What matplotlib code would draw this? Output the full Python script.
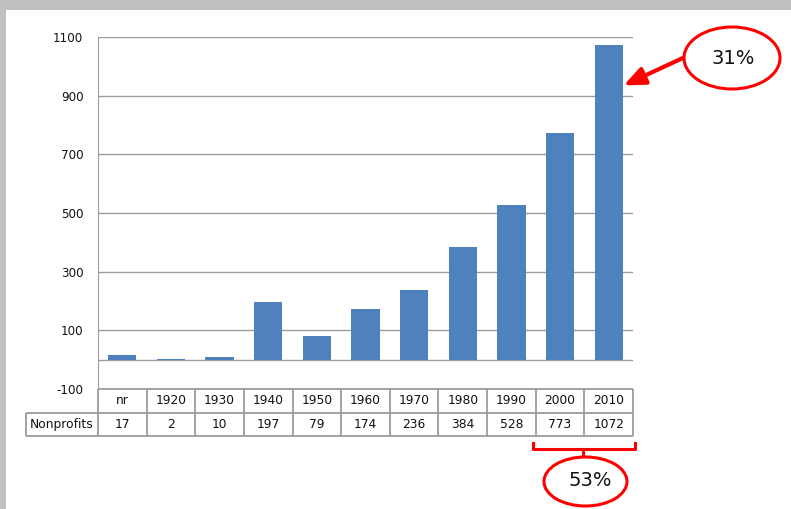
import numpy as np
import matplotlib.pyplot as plt
from matplotlib.patches import Ellipse, Rectangle

# ---- datos ----
categorias = ["nr", "1920", "1930", "1940", "1950", "1960", "1970", "1980", "1990", "2000", "2010"]
nonprofits = [17, 2, 10, 197, 79, 174, 236, 384, 528, 773, 1072]
yticks = [-100, 100, 300, 500, 700, 900, 1100]
etiqueta_fila = "Nonprofits"

W, H = 791, 509
AZUL = "#4F81BD"
GRIS = "#9C9C9C"
ROJO = "#FF0000"
TXT = "#111111"


def fx(px):
    return px / W


def fy(py):
    return 1 - py / H


fig = plt.figure(figsize=(W / 100, H / 100), dpi=100, facecolor="#C0C0C0")
fig.patches.append(Rectangle((fx(6), 0), 1 - fx(6), fy(10), transform=fig.transFigure,
                             facecolor="white", edgecolor="none", zorder=-10))

# ---- grafico de barras ----
ax = fig.add_axes([fx(98), fy(389), fx(633) - fx(98), fy(37) - fy(389)])
ax.set_facecolor("none")
xs = np.arange(len(categorias))
ancho = 0.58
ax.bar(xs, nonprofits, width=ancho, color=AZUL, zorder=3)
ax.set_xlim(-0.5, len(categorias) - 0.5)
ax.set_ylim(-100, 1100)
ax.set_yticks(yticks)
ax.set_yticklabels([str(t) for t in yticks], fontsize=8.6, color=TXT)
ax.tick_params(axis="y", length=0, pad=10.5)
ax.set_xticks([])
for t in yticks:
    ax.axhline(t, color=GRIS, lw=1, zorder=1)
ax.axhline(0, color=GRIS, lw=1, zorder=2)
for s in ["top", "right", "bottom"]:
    ax.spines[s].set_visible(False)
ax.spines["left"].set_color(GRIS)

# ---- tabla de datos ----
tx = fig.add_axes([fx(26), fy(436), fx(633) - fx(26), fy(389) - fy(436)])
izq = -0.5 - (98 - 26) / (535 / len(categorias))
tx.set_xlim(izq, len(categorias) - 0.5)
tx.set_ylim(0, 2)
tx.axis("off")
n = len(categorias)
lw_t = 1.3
tx.hlines(2, -0.5, n - 0.5, color=GRIS, lw=lw_t, clip_on=False)
tx.hlines([0, 1], izq, n - 0.5, color=GRIS, lw=lw_t, clip_on=False)
tx.vlines(np.arange(n + 1) - 0.5, 0, 2, color=GRIS, lw=lw_t, clip_on=False)
tx.vlines(izq, 0, 1, color=GRIS, lw=lw_t, clip_on=False)
for i, (c, v) in enumerate(zip(categorias, nonprofits)):
    tx.text(i, 1.5, c, ha="center", va="center", fontsize=8.8, color=TXT)
    tx.text(i, 0.5, str(v), ha="center", va="center", fontsize=8.8, color=TXT)
tx.text((izq - 0.5) / 2, 0.5, etiqueta_fila, ha="center", va="center", fontsize=8.8, color=TXT)

# ---- anotaciones ----
e1 = Ellipse((fx(732), fy(58)), 96 / W, 62 / H, transform=fig.transFigure,
             facecolor="white", edgecolor=ROJO, lw=2.2, zorder=5)
fig.patches.append(e1)
fig.text(fx(733), fy(59), "31%", ha="center", va="center", fontsize=14, color=TXT, zorder=6)
ax.annotate("", xy=(len(categorias) - 1 + ancho / 2 + 0.02, 935), xycoords="data",
            xytext=(fx(685), fy(57)), textcoords="figure fraction",
            arrowprops=dict(arrowstyle="-|>,head_length=0.7,head_width=0.3", color=ROJO,
                            lw=3, mutation_scale=18, shrinkA=0, shrinkB=0),
            annotation_clip=False, zorder=6)

# llave bajo 2000-2010
fig.lines.append(plt.Line2D([fx(533), fx(533), fx(635), fx(635)],
                            [fy(443), fy(449), fy(449), fy(443)],
                            transform=fig.transFigure, color=ROJO, lw=2.2))
fig.lines.append(plt.Line2D([fx(583), fx(583)], [fy(449), fy(458)],
                            transform=fig.transFigure, color=ROJO, lw=2.2))
e2 = Ellipse((fx(585.5), fy(481.5)), 83 / W, 49 / H, transform=fig.transFigure,
             facecolor="white", edgecolor=ROJO, lw=2.2, zorder=5)
fig.patches.append(e2)
fig.text(fx(590), fy(481), "53%", ha="center", va="center", fontsize=14, color=TXT, zorder=6)

fig.savefig("out.png", dpi=100, facecolor=fig.get_facecolor())
